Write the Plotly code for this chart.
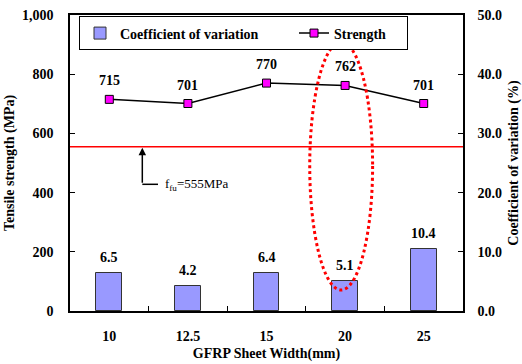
import plotly.graph_objects as go

# GFRP sheet widths (mm) and measured results
widths = ["10", "12.5", "15", "20", "25"]
strength = [715, 701, 770, 762, 701]          # tensile strength, MPa
cov = [6.5, 4.2, 6.4, 5.1, 10.4]              # coefficient of variation, %
f_fu = 555                                    # design tensile strength, MPa

FONT = "'Liberation Serif', 'Times New Roman', Times, serif"
W, H = 522, 364
ML, MR, MT, MB = 70, 59, 15, 53

fig = go.Figure()

fig.add_trace(go.Bar(
    x=widths, y=cov, yaxis="y2", name="Coefficient of variation",
    width=0.33, legendwidth=169,
    marker=dict(color="#9999FF", line=dict(color="#333333", width=1)),
))

fig.add_trace(go.Scatter(
    x=widths, y=strength, yaxis="y", name="Strength", mode="lines+markers",
    legendwidth=68,
    line=dict(color="black", width=1.5),
    marker=dict(symbol="square", size=8, color="#FF00FF",
                line=dict(color="black", width=1)),
))

annotations = []
# value labels above strength markers (category index used as x position)
for i, s in enumerate(strength):
    annotations.append(dict(x=i, y=s, xref="x", yref="y", text=f"<b>{s}</b>",
                            showarrow=False, yanchor="bottom", yshift=9,
                            font=dict(family=FONT, size=14, color="black")))
# value labels above bars
for i, c in enumerate(cov):
    annotations.append(dict(x=i, y=c, xref="x", yref="y2", text=f"<b>{c}</b>",
                            showarrow=False, yanchor="bottom", yshift=6,
                            font=dict(family=FONT, size=14, color="black")))

# f_fu callout: arrow up to the reference line with an elbow to the label
arrow_x = 0.42
elbow_y = 428
annotations.append(dict(x=arrow_x, y=f_fu, xref="x", yref="y",
                        ax=arrow_x, ay=elbow_y, axref="x", ayref="y",
                        text="", showarrow=True, arrowhead=2, arrowsize=1,
                        arrowwidth=1.5, arrowcolor="black", standoff=1))
annotations.append(dict(x=0.68, y=elbow_y, xref="x", yref="y",
                        text=f"f<sub>fu</sub>={f_fu}MPa", showarrow=False,
                        xanchor="left", yanchor="middle",
                        font=dict(family=FONT, size=13, color="black")))

shapes = [
    # design strength reference line
    dict(type="line", xref="paper", x0=0, x1=1, yref="y", y0=f_fu, y1=f_fu,
         line=dict(color="red", width=1.5)),
    # elbow of the callout
    dict(type="line", xref="x", x0=arrow_x, x1=0.62, yref="y",
         y0=elbow_y, y1=elbow_y, line=dict(color="black", width=1.5)),
    # highlight around the 20 mm result
    dict(type="circle", xref="x", x0=2.55, x1=3.35, yref="y", y0=71, y1=909,
         line=dict(color="red", width=3, dash="dot")),
]

tickfont = dict(family=FONT, size=14, color="black", weight="bold")
titlefont = dict(family=FONT, size=14, color="black", weight="bold")

fig.update_layout(
    width=W, height=H,
    margin=dict(l=ML, r=MR, t=MT, b=MB, autoexpand=False),
    paper_bgcolor="white", plot_bgcolor="white",
    font=dict(family=FONT, color="black"),
    showlegend=True,
    legend=dict(orientation="h", x=9 / 393, y=0.995, xanchor="left", yanchor="top",
                bgcolor="white", bordercolor="black", borderwidth=1,
                font=dict(family=FONT, size=14, color="black", weight="bold"),
                itemwidth=30, traceorder="normal"),
    xaxis=dict(type="category", categoryorder="array", categoryarray=widths,
               range=[-0.5, 4.5], showline=True, linecolor="black", linewidth=1.5,
               mirror=True, ticks="inside", tickson="boundaries", ticklen=5,
               tickcolor="black", showgrid=False, tickfont=tickfont,
               ticklabelstandoff=11, automargin=False,
               title=dict(text="GFRP Sheet Width(mm)", font=titlefont, standoff=6)),
    yaxis=dict(range=[0, 1000], dtick=200, tickformat=",d", showline=True,
               linecolor="black", linewidth=1.5, ticks="inside", ticklen=5,
               tickcolor="black", showgrid=False, zeroline=False, tickfont=tickfont,
               ticklabelstandoff=12, automargin=False,
               title=dict(text="Tensile strength (MPa)", font=titlefont, standoff=4)),
    yaxis2=dict(range=[0, 50], dtick=10, tickformat=".1f", overlaying="y",
                side="right", showline=True, linecolor="black", linewidth=1.5,
                ticks="inside", ticklen=5, tickcolor="black", showgrid=False,
                zeroline=False, tickfont=tickfont, ticklabelstandoff=10,
                automargin=False,
                title=dict(text="Coefficient of variation (%)", font=titlefont,
                           standoff=8)),
    annotations=annotations,
    shapes=shapes,
    bargap=0,
)

fig.write_html("out.html")
